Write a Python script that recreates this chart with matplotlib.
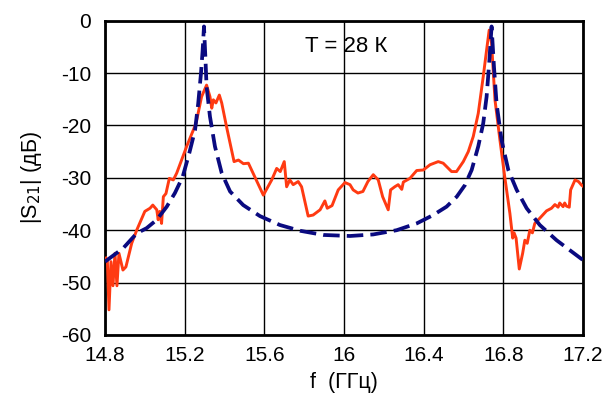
import matplotlib
matplotlib.use("Agg")
import matplotlib.pyplot as plt

plt.rcParams['font.family'] = ['Liberation Sans', 'DejaVu Sans']
plt.rcParams['axes.unicode_minus'] = False

# Measured |S21| (red, solid)
f_meas = [14.805, 14.812, 14.82, 14.83, 14.84, 14.85, 14.86, 14.87, 14.89, 14.905,
          14.934, 14.959, 15.0, 15.026, 15.04, 15.06, 15.067, 15.075, 15.084, 15.093,
          15.106, 15.123, 15.143, 15.16, 15.21, 15.257, 15.285, 15.31, 15.327, 15.336,
          15.344, 15.357, 15.374, 15.386, 15.41, 15.448, 15.47, 15.495, 15.52, 15.595,
          15.637, 15.662, 15.68, 15.70, 15.712, 15.728, 15.745, 15.77, 15.787, 15.82,
          15.845, 15.88, 15.904, 15.916, 15.94, 15.971, 16.005, 16.03, 16.046, 16.07,
          16.095, 16.12, 16.147, 16.172, 16.194, 16.222, 16.234, 16.255, 16.272, 16.29,
          16.298, 16.331, 16.365, 16.398, 16.432, 16.473, 16.498, 16.54, 16.565, 16.599,
          16.624, 16.649, 16.674, 16.699, 16.716, 16.729, 16.741, 16.758, 16.783, 16.807,
          16.833, 16.847, 16.854, 16.864, 16.88, 16.897, 16.908, 16.92, 16.933, 16.946,
          16.958, 16.983, 17.017, 17.042, 17.059, 17.075, 17.083, 17.1, 17.108, 17.117,
          17.131, 17.138, 17.16, 17.177, 17.193, 17.2]
s_meas = [-45.3, -46.0, -55.2, -46.0, -50.6, -44.4, -50.6, -44.4, -47.6, -47.0,
          -42.5, -40.0, -36.4, -35.8, -35.2, -36.1, -38.0, -36.4, -38.7, -33.6,
          -33.0, -30.1, -30.4, -29.1, -24.0, -19.6, -14.5, -12.3, -14.5, -16.7,
          -15.1, -15.7, -14.2, -15.7, -20.2, -26.9, -26.6, -27.3, -27.2, -33.3,
          -30.4, -28.2, -28.8, -26.9, -31.7, -30.4, -31.3, -30.7, -31.7, -37.3,
          -37.1, -36.1, -34.4, -35.8, -35.3, -32.3, -30.9, -31.3, -32.3, -32.9,
          -32.6, -30.7, -29.4, -30.4, -33.6, -36.1, -32.3, -31.7, -31.3, -32.2,
          -30.8, -30.1, -28.6, -28.5, -27.5, -26.9, -27.2, -28.8, -28.8, -26.9,
          -25.0, -22.1, -17.7, -10.7, -5.6, -1.8, -4.3, -15.1, -22.8, -29.8,
          -36.8, -41.5, -40.5, -41.5, -47.4, -44.4, -41.9, -42.5, -40.0, -40.5,
          -38.7, -37.7, -36.3, -35.8, -35.1, -35.6, -34.8, -35.5, -34.8, -35.4,
          -35.6, -32.3, -30.4, -30.7, -31.4, -31.6]

# Calculated |S21| (blue, dashed)
f_calc = [14.8, 14.892, 14.959, 15.009, 15.06, 15.11, 15.151, 15.19, 15.223, 15.252,
          15.268, 15.282, 15.29, 15.297, 15.304, 15.31, 15.327, 15.352, 15.386, 15.428,
          15.494, 15.578, 15.678, 15.779, 15.896, 16.03, 16.147, 16.264, 16.365, 16.448,
          16.515, 16.566, 16.607, 16.641, 16.674, 16.699, 16.716, 16.729, 16.741, 16.753,
          16.766, 16.791, 16.825, 16.867, 16.917, 16.983, 17.067, 17.151, 17.2]
s_calc = [-46.0, -43.4, -40.6, -39.6, -38.0, -35.5, -32.9, -29.8, -25.3, -20.9,
          -15.8, -10.0, -5.8, -1.1, -7.0, -12.6, -18.3, -24.0, -29.1, -32.6,
          -35.2, -37.3, -39.0, -40.1, -40.9, -41.1, -40.8, -40.0, -38.7, -37.1,
          -35.5, -33.6, -31.4, -28.5, -24.0, -19.6, -14.5, -8.1, -1.1, -8.8,
          -15.8, -22.8, -28.5, -32.3, -35.8, -39.0, -41.9, -44.3, -45.7]

x_ticks = [14.8, 15.2, 15.6, 16.0, 16.4, 16.8, 17.2]
x_ticklabels = ['14.8', '15.2', '15.6', '16', '16.4', '16.8', '17.2']
y_ticks = [0, -10, -20, -30, -40, -50, -60]

fig = plt.figure(figsize=(6.06, 3.98), dpi=100)
ax = fig.add_axes([105/606, 1 - 335/398, (583 - 105)/606, (335 - 20.7)/398])

ax.plot(f_meas, s_meas, color='#ff3a12', lw=2.1, zorder=3)
ax.plot(f_calc, s_calc, color='#0a0a80', lw=2.7, dashes=(4.4, 1.9), zorder=4)

ax.set_xlim(14.8, 17.2)
ax.set_ylim(-60, 0)
ax.set_xticks(x_ticks)
ax.set_xticklabels(x_ticklabels)
ax.set_yticks(y_ticks)
ax.tick_params(length=0, labelsize=15, colors='black')
ax.tick_params(axis='y', pad=10)
ax.tick_params(axis='x', pad=8)
ax.grid(True, color='black', lw=1.0)
ax.set_axisbelow(True)
for sp in ax.spines.values():
    sp.set_linewidth(2.0)
    sp.set_color('black')

ax.set_xlabel('f  (ГГц)', fontsize=15.5, labelpad=5)
ax.set_ylabel('|S$_{21}$| (дБ)', fontsize=15.5, labelpad=12)
ax.text(16.01, -4.9, 'T = 28 К', fontsize=16, ha='center', va='center')

fig.savefig('out.png', dpi=100)
